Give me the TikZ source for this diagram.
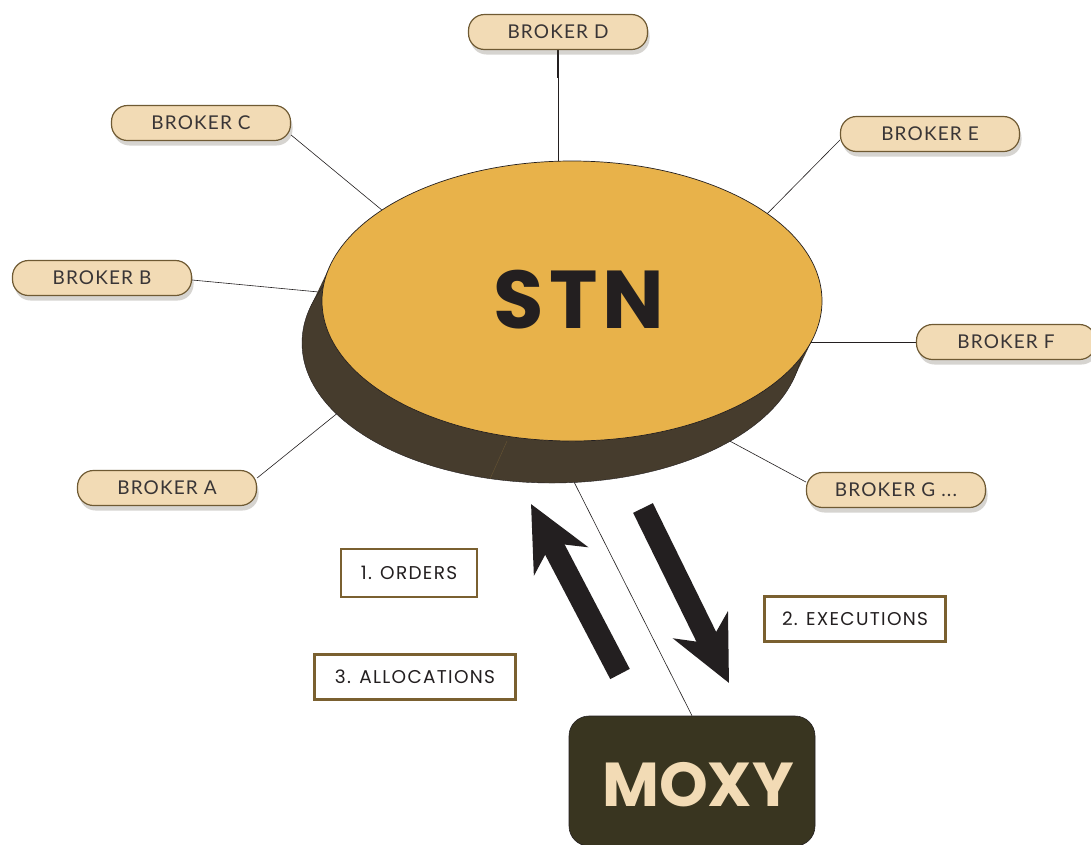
\documentclass[tikz,border=0pt]{standalone}
\usepackage{fontspec}
\setmainfont{Lato}
\newfontfamily\brkfont[LetterSpace=6]{Lato}
\newfontfamily\lblfont[LetterSpace=7]{Poppins}
\newfontfamily\stnfont[LetterSpace=6]{Poppins}
\newfontfamily\moxyfont[LetterSpace=0]{Poppins}
\usetikzlibrary{shadows,arrows.meta,calc}
\definecolor{pillfill}{HTML}{F2DBB5}
\definecolor{pilldraw}{HTML}{6F5A33}
\definecolor{stnfill}{HTML}{E8B24A}
\definecolor{stnside}{HTML}{463C2D}
\definecolor{moxyfill}{HTML}{393520}
\definecolor{lbldraw}{HTML}{7A6030}
\definecolor{inkc}{HTML}{231F20}
\pgfdeclarelayer{bg}
\pgfdeclarelayer{paper}
\pgfsetlayers{paper,bg,main}
\tikzset{
  pill/.style={draw=pilldraw, line width=1.2pt, fill=pillfill, rounded corners=16pt,
    minimum width=179pt, minimum height=35pt, inner sep=0pt,
    font=\brkfont\fontsize{19}{19}\selectfont, text=inkc!90!white,
    drop shadow={shadow xshift=2pt, shadow yshift=-5pt, opacity=0.22, fill=stnside}},
  lbl/.style={draw=lbldraw, line width=2.4pt, fill=white, inner sep=0pt,
    font=\lblfont\fontsize{18.5}{18.5}\selectfont, text=inkc},
  conn/.style={draw=inkc, line width=0.6pt},
  bigarrow/.style={draw=inkc, line width=22pt,
    -{Stealth[length=64pt, width=60pt, inset=20pt]}},
}
\begin{document}
\begin{tikzpicture}[x=1pt,y=-1pt]
\useasboundingbox (0,0) rectangle (1091,844);
\begin{pgfonlayer}{paper}
\fill[white] (0,0) rectangle (1091,844);
\end{pgfonlayer}

% brokers
\node[pill] (brkD) at (558,32) {BROKER D};
\node[pill] (brkC) at (201,123) {BROKER C};
\node[pill] (brkE) at (930,134) {BROKER E};
\node[pill] (brkB) at (102,278) {BROKER B};
\node[pill] (brkF) at (1006,342) {BROKER F};
\node[pill] (brkA) at (167,488) {BROKER A};
\node[pill] (brkG) at (896,490) {BROKER G ...};

% STN disc: side (shadow) and top
\coordinate (p1) at ($(572,301)+(14.9:250 and 140)$);
\coordinate (p2) at ($(572,301)+(194.9:250 and 140)$);
\fill[stnside] (p1) -- (p2) -- ++(-20,42) -- ($(p1)+(-20,42)$) -- cycle;
\filldraw[fill=stnside, draw=inkc, line width=0.4pt] (552,343) ellipse [x radius=250, y radius=140];
\draw[stnside!80!stnfill, line width=0.4pt] (507,441) -- (490,479);
\filldraw[fill=stnfill, draw=inkc, line width=0.7pt] (572,301) ellipse [x radius=250, y radius=140];
\node[font=\stnfont\bfseries\fontsize{82}{82}\selectfont, text=inkc] (stn) at (579,300) {STN};

% MOXY
\node[fill=moxyfill, draw=inkc, line width=0.6pt, rounded corners=20pt,
  minimum width=246pt, minimum height=130pt, inner sep=0pt] (moxy) at (692,781) {};
\node[font=\moxyfont\bfseries\fontsize{62}{62}\selectfont, text=pillfill] (moxyt) at (698,785) {MOXY};

% ellipse contact points (hidden beneath the disc)
\coordinate (cD) at (558,185);
\coordinate (cC) at (400,225);
\coordinate (cE) at (760,221);
\coordinate (cB) at (340,294);
\coordinate (cF) at (790,342);
\coordinate (cA) at (355,399);
\coordinate (cG) at (700,425);
\coordinate (cM) at (570,474);

\begin{pgfonlayer}{bg}
\draw[conn] (brkD.south) -- (cD);
\draw[conn, line width=1.4pt] (brkD.south) -- ++(0,28);
\draw[conn] ([yshift=-12pt]brkC.east) -- (cC);
\draw[conn] ([yshift=-6pt]brkE.west) -- (cE);
\draw[conn] ([yshift=-2pt]brkB.east) -- (cB);
\draw[conn] (brkF.west) -- (cF);
\draw[conn] ([yshift=10pt]brkA.east) -- (cA);
\draw[conn] ([yshift=8pt]brkG.west) -- (cG);
\draw[conn] (cM) -- (moxy.north);
\end{pgfonlayer}

% flow arrows
\coordinate (upTail) at (620,674);
\coordinate (upTip) at (531,504);
\coordinate (dnTail) at (643,508);
\coordinate (dnTip) at (729,683);
\draw[bigarrow] (upTail) -- (upTip);
\draw[bigarrow] (dnTail) -- (dnTip);

% labels
\node[lbl, minimum width=136pt, minimum height=48pt] (ord) at (409,573) {1. ORDERS};
\node[lbl, minimum width=181pt, minimum height=45pt] (exe) at (855,619) {2. EXECUTIONS};
\node[lbl, minimum width=201pt, minimum height=45pt] (alo) at (415,677) {3. ALLOCATIONS};
\end{tikzpicture}
\end{document}
